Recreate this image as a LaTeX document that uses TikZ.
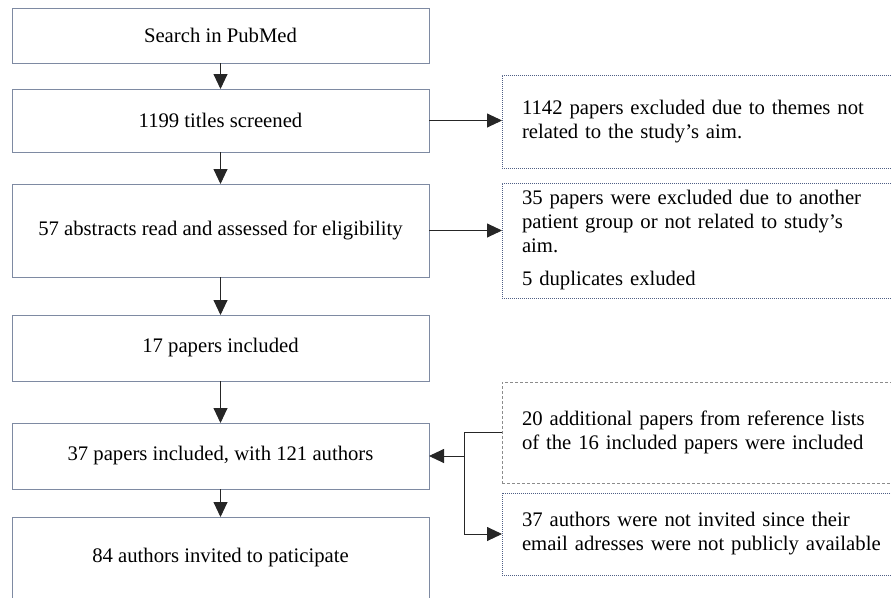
\documentclass[tikz,border=0pt]{standalone}
\usepackage{fontspec}
\setmainfont{Liberation Serif}
\usetikzlibrary{arrows.meta}
\definecolor{boxline}{HTML}{7E8AA2}
\definecolor{dotline}{HTML}{4F5F85}
\definecolor{dashline}{HTML}{8C8C8C}
\tikzset{
  mainbox/.style={draw=boxline, line width=1pt, minimum width=417pt, inner sep=0pt, outer sep=0pt, align=center},
  sidebox/.style={line width=1pt, minimum width=420pt, text width=380pt, inner xsep=20pt, inner ysep=0pt, outer sep=0pt, align=left},
  dotbox/.style={sidebox, draw=dotline, dash pattern=on 1pt off 1pt},
  dashbox/.style={sidebox, draw=dashline, dash pattern=on 3pt off 2pt},
  conn/.style={draw=black!85, line width=0.9pt},
  arr/.style={conn, -{Triangle[length=15pt,width=14pt]}}
}
\begin{document}
\begin{tikzpicture}[x=1pt,y=-1pt, font=\fontsize{20.7}{24}\selectfont]
\useasboundingbox (0,0) rectangle (891,597);
\clip (0,0) rectangle (891,597);
% main column
\node[mainbox, minimum height=55pt] (b1) at (220.5,35.5) {Search in PubMed};
\node[mainbox, minimum height=63pt] (b2) at (220.5,120.5) {1199 titles screened};
\node[mainbox, minimum height=93pt] (b3) at (220.5,230.5) {57 abstracts read and assessed for eligibility};
\node[mainbox, minimum height=66pt] (b4) at (220.5,348) {17 papers included};
\node[mainbox, minimum height=66pt] (b5) at (220.5,456) {37 papers included, with 121 authors};
\node[mainbox, minimum height=82pt] (b6) at (220.5,558) {84 authors invited to paticipate};
% side boxes
\node[dotbox, minimum height=93pt] (r1) at (712,121.5) {1142 papers excluded due to themes not\\related to the study’s aim.};
\node[dotbox, minimum height=115pt] (r2) at (712,240.5) {35 papers were excluded due to another\\patient group or not related to study’s\\aim.\\[9pt]5 duplicates exluded};
\node[dashbox, minimum height=101pt] (r3) at (712,432.5) {20 additional papers from reference lists\\of the 16 included papers were included};
\node[dotbox, minimum height=82pt] (r4) at (712,534) {37 authors were not invited since their\\email adresses were not publicly available};
% vertical arrows
\draw[arr] (b1) -- (b2);
\draw[arr] (b2) -- (b3);
\draw[arr] (b3) -- (b4);
\draw[arr] (b4) -- (b5);
\draw[arr] (b5) -- (b6);
% side arrows
\draw[arr] (b2.east) -- (b2.east -| r1.west);
\draw[arr] (b3.east) -- (b3.east -| r2.west);
\coordinate (j) at (464,456);
\draw[conn] (r3.west) -| (j);
\draw[arr] (j) |- (r4.west);
\draw[arr] (j) -- (b5.east);
\end{tikzpicture}
\end{document}
